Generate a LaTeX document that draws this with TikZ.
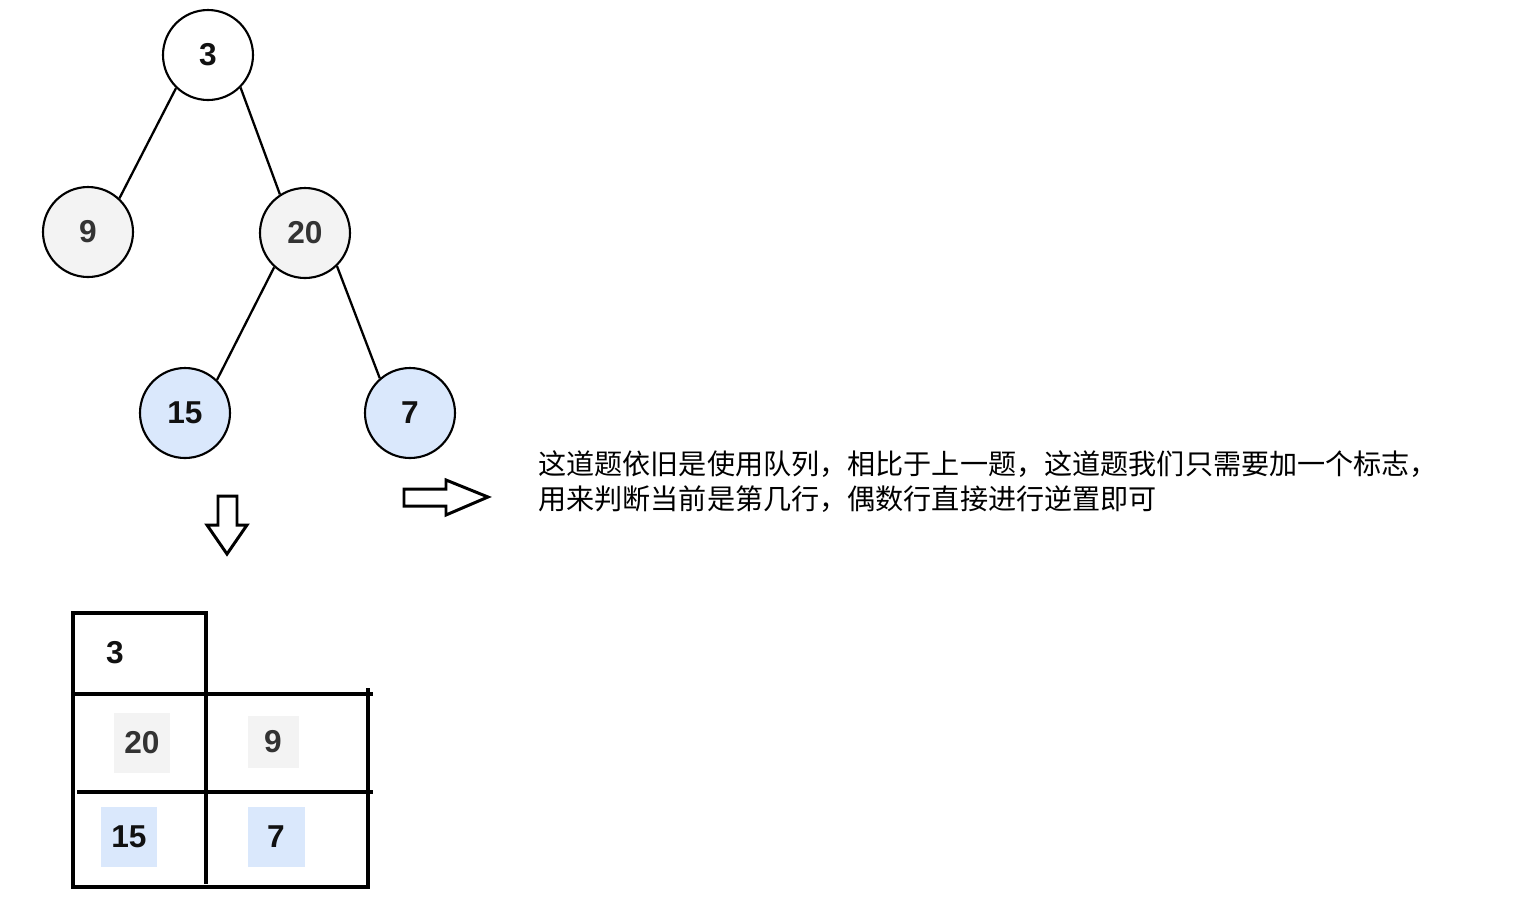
\documentclass[tikz,border=0pt]{standalone}
\usepackage{fontspec}
\setmainfont{Liberation Sans}
\newfontfamily\cjk{Noto Sans CJK SC}
\usepackage{xcolor}
\usetikzlibrary{positioning}
\definecolor{greyfill}{HTML}{F3F3F3}
\definecolor{bluefill}{HTML}{DAE8FC}
\definecolor{greytext}{HTML}{333333}
\definecolor{ink}{HTML}{111111}

\begin{document}
\begin{tikzpicture}[
  x=0.2mm, y=-0.2mm,
  every node/.style={font=\fontsize{18}{21}\selectfont\bfseries},
  tnode/.style={circle, draw=black, line width=1.2pt, minimum size=90*0.2mm, inner sep=0pt, text=ink},
  grey/.style={fill=greyfill, text=greytext},
  blue/.style={fill=bluefill, text=ink},
  tedge/.style={line width=1.3pt},
  cell/.style={inner sep=0pt, minimum width=56*0.2mm, minimum height=60*0.2mm, text=ink},
  grid/.style={line width=2.3pt},
  bigarrow/.style={line width=1.7pt, line join=miter, fill=white},
  note/.style={font=\cjk\fontsize{16}{20}\selectfont, align=left, anchor=north west, inner sep=0pt},
]
\useasboundingbox (0,0) rectangle (1514,920);

% Tree
\node[tnode]      (n3)  at (208,55)  {3};
\node[tnode,grey] (n9)  at (88,232)  {9};
\node[tnode,grey] (n20) at (305,233) {20};
\node[tnode,blue] (n15) at (185,413) {15};
\node[tnode,blue] (n7)  at (410,413) {7};

\draw[tedge] (n3.226)  -- (n9.47);
\draw[tedge] (n3.-45)  -- (n20.123);
\draw[tedge] (n20.228) -- (n15.46);
\draw[tedge] (n20.-46) -- (n7.131);

% Block arrows
\draw[bigarrow] (218,496) -- (237,496) -- (237,525) -- (247,525) -- (227,554)
  -- (207,525) -- (218,525) -- cycle;
\draw[bigarrow] (404,489) -- (446,489) -- (446,480) -- (488,497) -- (446,515)
  -- (446,506) -- (404,506) -- cycle;

% Explanation
\node[note] (txt) at (538,450) {这道题依旧是使用队列，相比于上一题，这道题我们只需要加一个标志，\\用来判断当前是第几行，偶数行直接进行逆置即可};

% Level table
\node[cell]             (c3)  at (115,653) {3};
\node[cell,grey]        (c20) at (142,743) {20};
\node[cell,grey,minimum width=51*0.2mm,minimum height=52*0.2mm] (c9) at (273,742) {9};
\node[cell,blue]        (c15) at (129,837) {15};
\node[cell,blue,minimum width=57*0.2mm] (c7) at (276,837) {7};

\draw[grid] (73,613) -- (206,613);
\draw[grid] (73,611) -- (73,889);
\draw[grid] (206,611) -- (206,884);
\draw[grid] (73,694) -- (373,694);
\draw[grid] (368,688) -- (368,889);
\draw[grid] (77,792) -- (373,792);
\draw[grid] (71,887) -- (370,887);
\end{tikzpicture}
\end{document}
